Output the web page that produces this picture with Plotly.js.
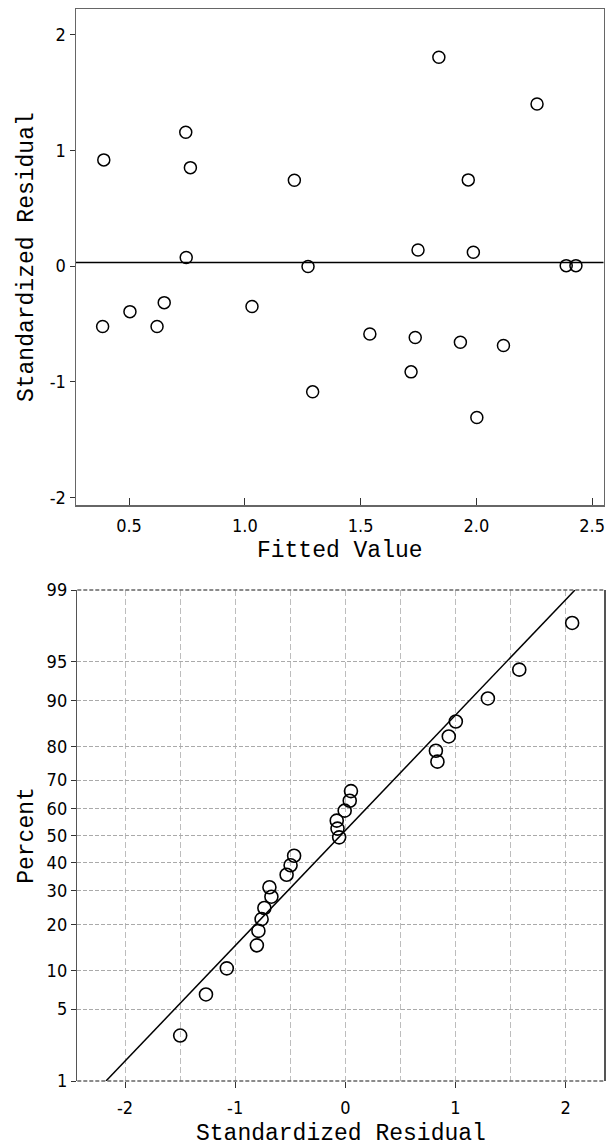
<!DOCTYPE html>
<html>
<head>
<meta charset="utf-8">
<script src="https://cdn.plot.ly/plotly-3.0.1.min.js"></script>
<style>html,body{margin:0;padding:0;background:#fff;}#chart{width:614px;height:1146px;}</style>
</head>
<body>
<div id="chart"></div>
<script>
// ---- Top panel: residuals vs fitted values ----
const fittedValues = [0.391, 0.745, 0.765, 1.214, 1.838, 2.262, 1.965, 0.747, 1.273, 1.748, 1.987, 2.388, 2.430,
                      0.386, 0.504, 0.621, 0.652, 1.031, 1.293, 1.540, 1.736, 1.718, 1.931, 2.117, 2.002];
const stdResiduals = [0.919, 1.158, 0.852, 0.743, 1.807, 1.403, 0.746, 0.074, -0.004, 0.140, 0.120, 0.004, 0.004,
                      -0.523, -0.394, -0.523, -0.316, -0.350, -1.088, -0.587, -0.618, -0.915, -0.659, -0.687, -1.310];
const referenceLineY = 0.032;
const topXTicks = [0.5, 1.0, 1.5, 2.0, 2.5];
const topXTickText = ['0.5', '1.0', '1.5', '2.0', '2.5'];
const topYTicks = [-2, -1, 0, 1, 2];
const topYTickText = ['-2', '-1', '0', '1', '2'];

// ---- Bottom panel: normal probability plot ----
const probResiduals = [-1.499, -1.265, -1.076, -0.803, -0.789, -0.760, -0.735, -0.671, -0.689, -0.533, -0.497, -0.465,
                       -0.056, -0.071, -0.078, -0.006, 0.040, 0.051, 0.836, 0.822, 0.939, 1.003, 1.294, 1.579, 2.059];
const probPercents = [2.9, 6.6, 10.4, 14.9, 18.3, 21.4, 24.6, 28.1, 31.2, 35.5, 38.9, 42.4,
                      49.3, 52.6, 55.6, 59.3, 62.9, 66.3, 75.8, 78.9, 82.6, 86.0, 90.3, 94.2, 97.8];
const percentTicks = [1, 5, 10, 20, 30, 40, 50, 60, 70, 80, 90, 95, 99];
const fitMean = -0.044;
const fitSd = 0.915;
const bottomXTicks = [-2, -1, 0, 1, 2];
const bottomXTickText = ['-2', '-1', '0', '1', '2'];

// inverse standard normal CDF (Acklam)
function qnorm(p) {
  const a=[-3.969683028665376e+01,2.209460984245205e+02,-2.759285104469687e+02,1.383577518672690e+02,-3.066479806614716e+01,2.506628277459239e+00];
  const b=[-5.447609879822406e+01,1.615858368580409e+02,-1.556989798598866e+02,6.680131188771972e+01,-1.328068155288572e+01];
  const c=[-7.784894002430293e-03,-3.223964580411365e-01,-2.400758277161838e+00,-2.549732539343734e+00,4.374664141464968e+00,2.938163982698783e+00];
  const d=[7.784695709041462e-03,3.224671290700398e-01,2.445134137142996e+00,3.754408661907416e+00];
  const plow=0.02425, phigh=1-plow; let q, r;
  if (p < plow) { q=Math.sqrt(-2*Math.log(p)); return (((((c[0]*q+c[1])*q+c[2])*q+c[3])*q+c[4])*q+c[5])/((((d[0]*q+d[1])*q+d[2])*q+d[3])*q+1); }
  if (p <= phigh) { q=p-0.5; r=q*q; return (((((a[0]*r+a[1])*r+a[2])*r+a[3])*r+a[4])*r+a[5])*q/(((((b[0]*r+b[1])*r+b[2])*r+b[3])*r+b[4])*r+1); }
  q=Math.sqrt(-2*Math.log(1-p)); return -(((((c[0]*q+c[1])*q+c[2])*q+c[3])*q+c[4])*q+c[5])/((((d[0]*q+d[1])*q+d[2])*q+d[3])*q+1);
}

const zLow = qnorm(percentTicks[0] / 100);
const zHigh = qnorm(percentTicks[percentTicks.length - 1] / 100);

const tickFont = {family: "'DejaVu Sans Condensed', 'Liberation Sans', sans-serif", size: 18, color: '#000'};
const titleFont = {family: "'Liberation Mono', 'Courier New', 'DejaVu Sans Mono', monospace", size: 23, color: '#000'};
const W = 614, H = 1146;

const traces = [
  {
    type: 'scatter', mode: 'markers', x: fittedValues, y: stdResiduals, xaxis: 'x', yaxis: 'y',
    marker: {symbol: 'circle-open', size: 12, color: '#000', line: {width: 1.5, color: '#000'}},
    hoverinfo: 'skip', showlegend: false
  },
  {
    type: 'scatter', mode: 'lines', xaxis: 'x2', yaxis: 'y2',
    x: [fitMean + fitSd * zLow, fitMean + fitSd * zHigh], y: [zLow, zHigh],
    line: {color: '#000', width: 1.5}, hoverinfo: 'skip', showlegend: false
  },
  {
    type: 'scatter', mode: 'markers', xaxis: 'x2', yaxis: 'y2',
    x: probResiduals, y: probPercents.map(p => qnorm(p / 100)),
    marker: {symbol: 'circle-open', size: 13, color: '#000', line: {width: 1.6, color: '#000'}},
    hoverinfo: 'skip', showlegend: false
  }
];

const layout = {
  width: W, height: H,
  margin: {l: 0, r: 0, t: 0, b: 0},
  paper_bgcolor: '#fff', plot_bgcolor: '#fff',
  showlegend: false,
  font: {family: "'DejaVu Sans Condensed', 'Liberation Sans', sans-serif"},
  xaxis: {
    domain: [76 / W, 603.5 / W], anchor: 'y',
    range: [0.271, 2.549], tickvals: topXTicks, ticktext: topXTickText,
    ticks: 'inside', ticklen: 7, tickwidth: 1, tickcolor: '#333',
    showline: true, mirror: true, linecolor: '#666', linewidth: 1.5,
    showgrid: false, zeroline: false, tickfont: tickFont, ticklabelstandoff: 4,
    title: {text: 'Fitted Value', font: titleFont, standoff: 6}
  },
  yaxis: {
    domain: [1 - 505 / H, 1 - 9.3 / H], anchor: 'x',
    range: [-2.067, 2.222], tickvals: topYTicks, ticktext: topYTickText,
    ticks: 'outside', ticklen: 5, tickwidth: 1, tickcolor: '#333',
    showline: true, mirror: true, linecolor: '#666', linewidth: 1.5,
    showgrid: false, zeroline: false, tickfont: tickFont,
    title: {text: 'Standardized Residual', font: titleFont, standoff: 9}
  },
  xaxis2: {
    domain: [77.3 / W, 604 / W], anchor: 'y2',
    range: [-2.433, 2.348], tickvals: bottomXTicks, ticktext: bottomXTickText,
    ticks: 'outside', ticklen: 6, tickwidth: 1, tickcolor: '#333',
    showline: false, zeroline: false,
    showgrid: true, gridcolor: '#bdbdbd', gridwidth: 1, griddash: '6px,3px',
    minor: {dtick: 0.5, showgrid: true, gridcolor: '#bdbdbd', gridwidth: 1, griddash: '6px,3px', ticks: ''},
    tickfont: tickFont, ticklabelstandoff: 4
  },
  yaxis2: {
    domain: [1 - 1081 / H, 1 - 590 / H], anchor: 'x2',
    range: [zLow, zHigh],
    tickvals: percentTicks.map(p => qnorm(p / 100)), ticktext: percentTicks.map(String),
    ticks: 'outside', ticklen: 5, tickwidth: 1, tickcolor: '#333',
    showline: true, mirror: true, linecolor: '#555', linewidth: 1.5,
    showgrid: true, gridcolor: '#aaaaaa', gridwidth: 1, griddash: '4px,2px',
    zeroline: false, tickfont: tickFont,
    title: {text: 'Percent', font: titleFont, standoff: 6}
  },
  annotations: [
    {text: 'Standardized Residual', font: titleFont, showarrow: false,
     xref: 'x2 domain', x: 0.5, xanchor: 'center', borderpad: 0,
     yref: 'paper', y: 1 - 1133.5 / H, yanchor: 'middle'}
  ],
  shapes: [
    {type: 'line', xref: 'x domain', yref: 'y', x0: 0, x1: 1, y0: referenceLineY, y1: referenceLineY,
     line: {color: '#000', width: 1.5}},
    {type: 'line', xref: 'x2 domain', yref: 'y2 domain', x0: 0, x1: 1, y0: 1, y1: 1,
     line: {color: '#666', width: 1.5, dash: '4px,2px'}},
    {type: 'line', xref: 'x2 domain', yref: 'y2 domain', x0: 0, x1: 1, y0: 0, y1: 0,
     line: {color: '#666', width: 1.5, dash: '4px,2px'}}
  ]
};

Plotly.newPlot('chart', traces, layout, {staticPlot: true, displayModeBar: false});
</script>
</body>
</html>
